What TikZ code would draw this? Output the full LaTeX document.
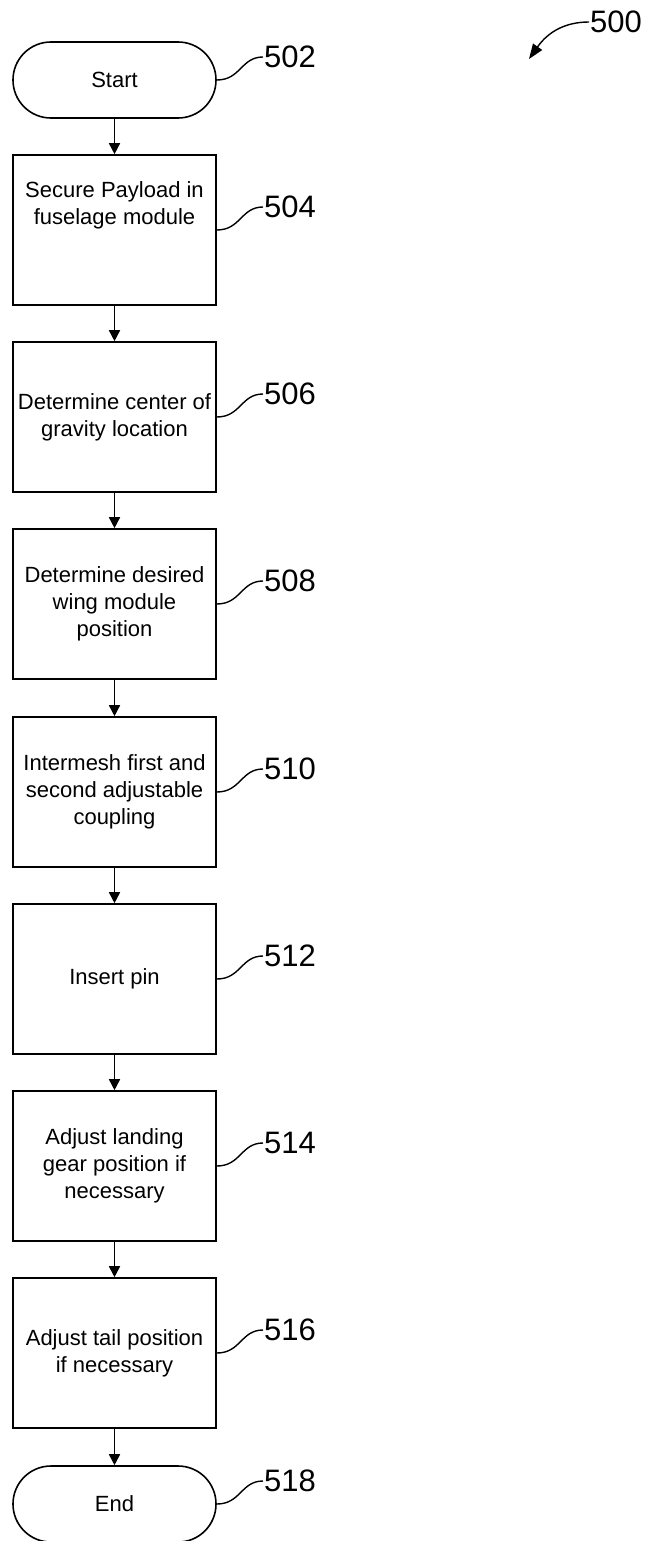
\documentclass[tikz,border=0pt]{standalone}
\usepackage{fontspec}
\setmainfont{Liberation Sans}
\usetikzlibrary{arrows.meta}
\begin{document}
\begin{tikzpicture}[x=1pt,y=-1pt,
  every node/.style={font=\fontsize{22}{27}\selectfont},
  stepbox/.style={draw,line width=1.6pt,minimum width=203pt,minimum height=150pt,align=center,inner sep=2pt},
  termbox/.style={draw,line width=1.6pt,minimum width=203pt,minimum height=76pt,rounded corners=37.9pt,align=center},
  flow/.style={line width=1.6pt,-{Triangle[length=11pt,width=11pt]}},
  refnum/.style={font=\fontsize{31}{31}\selectfont,inner sep=0pt,anchor=west},
  leader/.style={line width=1.4pt}
]
\useasboundingbox (0,0) rectangle (647,1541);
\node[termbox] (s502) at (114.5,80) {Start};
\node[stepbox] (s504) at (114.5,230) {Secure Payload in\\fuselage module\\[27pt]};
\node[stepbox] (s506) at (114.5,417) {Determine center of\\gravity location};
\node[stepbox] (s508) at (114.5,604) {Determine desired\\wing module\\position};
\node[stepbox] (s510) at (114.5,792) {Intermesh first and\\second adjustable\\coupling};
\node[stepbox] (s512) at (114.5,979) {Insert pin};
\node[stepbox] (s514) at (114.5,1166) {Adjust landing\\gear position if\\necessary};
\node[stepbox] (s516) at (114.5,1353) {Adjust tail position\\if necessary};
\node[termbox] (s518) at (114.5,1504) {End};
\foreach \a/\b in {s502/s504,s504/s506,s506/s508,s508/s510,s510/s512,s512/s514,s514/s516,s516/s518}
  \draw[flow] (\a.south) -- (\b.north);
\foreach \n/\y in {502/80,504/230,506/417,508/604,510/792,512/979,514/1166,516/1353,518/1504}{
  \node[refnum] (l\n) at (264,\y-23) {\n};
  \draw[leader] (s\n.east) .. controls +(24,0) and +(-22,0) .. ([xshift=-1pt]l\n.west);
}
\node[refnum] (l500) at (590,22) {500};
\coordinate (a500) at (529,59);
\draw[line width=1.4pt,-{Triangle[length=15pt,width=11pt]}] ([xshift=-1pt]l500.west) .. controls (565,22) and (548,32) .. (a500);
\end{tikzpicture}
\end{document}
